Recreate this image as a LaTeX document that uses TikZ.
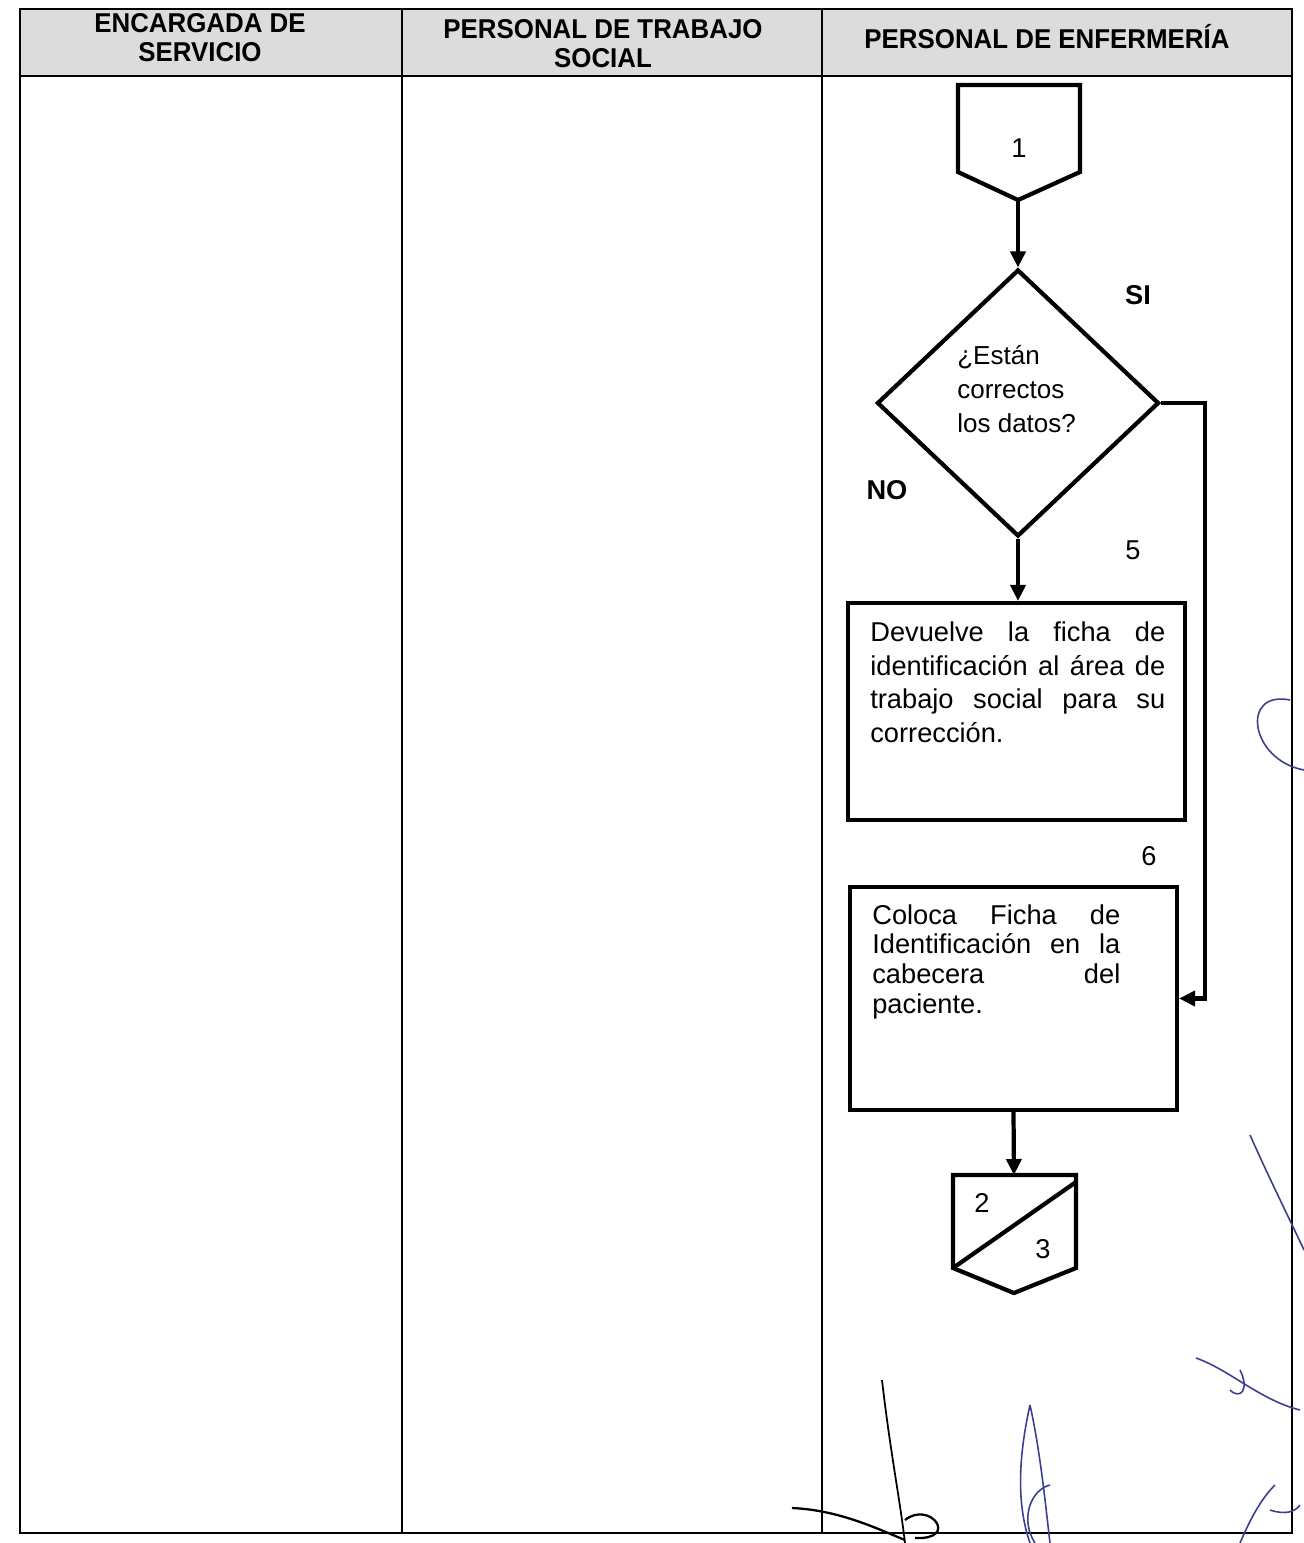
\documentclass[tikz,border=0pt]{standalone}
\usepackage{fontspec}
\setmainfont{Liberation Sans}
\newfontfamily\hdfont[FakeStretch=0.95]{Liberation Sans}
\usetikzlibrary{shapes.geometric,arrows.meta}
\definecolor{hdr}{HTML}{DCDCDC}
\definecolor{ink}{HTML}{3A3F8F}
\tikzset{
  tbl/.style={line width=0.9pt,draw=black},
  fl/.style={line width=2.4pt,draw=black,line join=miter},
  arr/.style={fl,-{Triangle[length=0.32cm,width=0.3cm]}},
  hd/.style={font=\hdfont\fontsize{15.5}{16.5}\selectfont\bfseries,align=center,inner sep=0pt},
  body/.style={font=\fontsize{15.5}{19.3}\selectfont,align=left,inner sep=0pt,anchor=north west},
  num/.style={font=\fontsize{15.5}{18}\selectfont,inner sep=0pt},
  lbl/.style={font=\fontsize{15.5}{18}\selectfont\bfseries,inner sep=0pt},
  sig/.style={draw=ink,line width=0.9pt},
}
\begin{document}
\begin{tikzpicture}[x=0.02cm,y=-0.02cm]
\useasboundingbox (0,0) rectangle (1304,1543);
% table
\fill[hdr] (20,9) rectangle (1292,76);
\draw[tbl] (20,9) rectangle (1292,1533);
\draw[line width=1.4pt] (20,76) -- (1292,76);
\draw[tbl] (402,9) -- (402,1533);
\draw[tbl] (822,9) -- (822,1533);
\node[hd] (h1) at (200,38) {ENCARGADA DE\\SERVICIO};
\node[hd] (h2) at (603,44) {PERSONAL DE TRABAJO\\SOCIAL};
\node[hd] (h3) at (1047,37) {PERSONAL DE ENFERMERÍA};

% off-page connector 1
\draw[fl] (958,85) -- (1080,85) -- (1080,172) -- (1018,200) -- (958,172) -- cycle;
\coordinate (c1tip) at (1018,200);
\node[num] (c1) at (1019,148) {1};

% decision
\node[diamond,fl,minimum width=5.64cm,minimum height=5.34cm,inner sep=0pt] (dia) at (1018,403) {};
\node[body,font=\fontsize{14.8}{19.3}\selectfont] (diatxt) at (957,345) {¿Están\\correctos\\los datos?};
\node[lbl] (si) at (1138,295) {SI};
\node[lbl] (no) at (887,490) {NO};
\node[num] (n5) at (1133,550) {5};
\node[num] (n6) at (1149,856) {6};

% boxes
\node[rectangle,fl,minimum width=6.74cm,minimum height=4.34cm,inner sep=0pt] (box1) at (1016.5,711.5) {};
\node[body,text width=5.9cm] (box1txt) at (870,621) {Devuelve\hfill la\hfill ficha\hfill de\\identificación\hfill al\hfill área\hfill de\\trabajo\hfill social\hfill para\hfill su\\corrección.};
\node[rectangle,fl,minimum width=6.54cm,minimum height=4.46cm,inner sep=0pt] (box2) at (1013.5,998.5) {};
\node[body,text width=4.96cm,font=\fontsize{15.5}{17}\selectfont] (box2txt) at (872,904) {Coloca\hfill Ficha\hfill de\\Identificación\hfill en\hfill la\\cabecera\hfill del\\paciente.};

% off-page connector 2/3
\draw[fl] (953,1175) -- (1076,1175) -- (1076,1268) -- (1014,1293) -- (953,1268) -- cycle;
\draw[fl] (953,1268) -- (1076,1182);
\coordinate (c2top) at (1014,1175);
\node[num] (c2a) at (982,1203) {2};
\node[num] (c2b) at (1043,1249) {3};

% connectors
\coordinate (yesR) at (1205,403);
\draw[arr] (c1tip) -- (dia.north);
\draw[arr] (dia.south) -- (dia.south |- box1.north);
\draw[arr] (dia.east) -- (yesR) |- (box2.east);
\draw[arr] (box2.south) -- (c2top);

% signatures (handwritten marks)
\draw[line width=1.3pt] (792,1508) .. controls (840,1510) and (880,1530) .. (905,1540);
\draw[line width=1pt] (882,1380) .. controls (890,1450) and (900,1500) .. (905,1543);
\draw[line width=1.3pt] (905,1520) .. controls (930,1500) and (960,1540) .. (915,1538);
\draw[sig] (1030,1405) .. controls (1020,1450) and (1015,1500) .. (1030,1543);
\draw[sig] (1030,1405) .. controls (1040,1450) and (1045,1500) .. (1050,1543);
\draw[sig] (1050,1485) .. controls (1030,1490) and (1020,1520) .. (1035,1543);
\draw[sig] (1196,1358) .. controls (1230,1370) and (1260,1400) .. (1300,1410);
\draw[sig] (1240,1370) .. controls (1250,1390) and (1240,1400) .. (1230,1390);
\draw[sig] (1304,1250) .. controls (1290,1220) and (1270,1180) .. (1250,1135);
\draw[sig] (1240,1543) .. controls (1250,1520) and (1260,1500) .. (1275,1485);
\draw[sig] (1270,1510) .. controls (1285,1515) and (1295,1512) .. (1300,1505);
\draw[sig] (1290,700) .. controls (1240,690) and (1250,760) .. (1304,770);
\end{tikzpicture}
\end{document}
